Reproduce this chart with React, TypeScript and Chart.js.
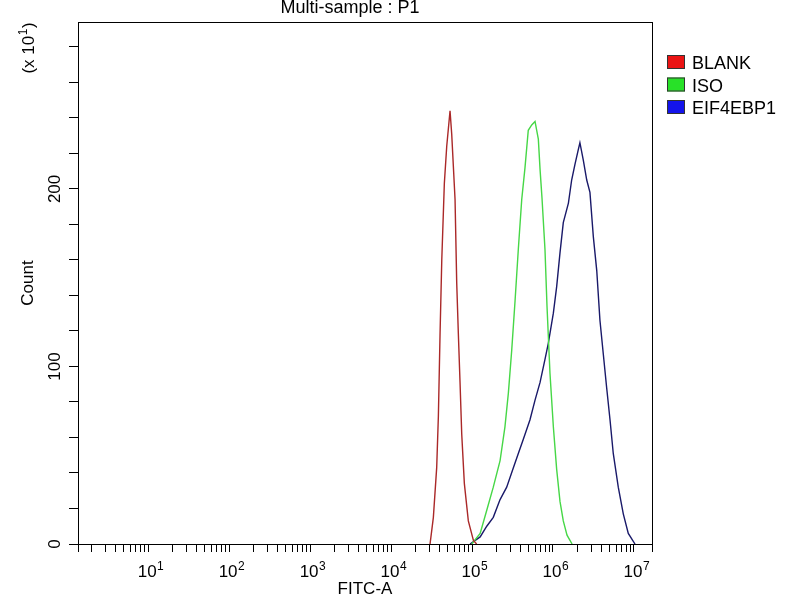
import { useEffect, useRef } from "react"
import { Chart, registerables } from "chart.js"

Chart.register(...registerables)

// FITC-A values (x) and event counts (y, in units of 10) for each histogram
const redFitc = [30300, 33300, 36600, 38400, 40300, 42300, 45500, 48700, 53500, 56100, 61700, 64700, 67700, 71100, 74600, 80400, 90000, 104000, 114000]
const redCount = [0, 15, 43, 72, 119, 160, 203, 224, 244, 231, 194, 147, 119, 91, 62, 34, 13, 2, 0]

const greenFitc = [99200, 126000, 152000, 183000, 222000, 255000, 281000, 309000, 340000, 373000, 411000, 451000, 495000, 546000, 600000, 659000, 692000, 731000, 796000, 843000, 918000, 1010000, 1110000, 1220000, 1340000, 1490000, 1720000]
const greenCount = [0, 6, 19, 32, 47, 66, 85, 109, 137, 166, 194, 212, 233, 236, 238, 228, 211, 195, 166, 134, 96, 66, 42, 24, 13, 5, 0]

const blueFitc = [94500, 126000, 152000, 183000, 222000, 268000, 324000, 373000, 430000, 520000, 600000, 692000, 796000, 875000, 1010000, 1110000, 1220000, 1340000, 1550000, 1700000, 1870000, 2050000, 2150000, 2370000, 2610000, 2860000, 3150000, 3470000, 3800000, 4180000, 4600000, 5060000, 5550000, 6400000, 7380000, 8510000, 10300000]
const blueCount = [0, 4, 10, 15, 25, 32, 43, 51, 59, 70, 81, 91, 104, 113, 130, 145, 164, 181, 192, 205, 214, 222, 226, 216, 205, 198, 173, 154, 126, 107, 88, 70, 51, 32, 17, 6, 0]

const seriesLabels = ["BLANK", "ISO", "EIF4EBP1"]
const lineColors = ["rgb(170, 40, 40)", "rgb(70, 215, 70)", "rgb(25, 25, 105)"]
const swatchColors = ["rgb(235, 20, 20)", "rgb(40, 225, 40)", "rgb(20, 20, 235)"]

// axis ticks
const xDecades = [1, 10, 100, 1000, 10000, 100000, 1000000, 10000000]
const xExponents = ["0", "1", "2", "3", "4", "5", "6", "7"]
const xMinorSteps = [2, 3, 4, 5, 6, 7, 8, 9]
const xMin = 1.36
const xMax = 16700000
const yMax = 294
const yLabelValues = [0, 100, 200]

const FONT = "'Liberation Sans', Arial, sans-serif"

const toPoints = (xs: number[], ys: number[]) => xs.map((x, i) => ({ x, y: ys[i] }))

const xTickValues: number[] = [xMin]
xDecades.forEach((d) => {
  if (d >= xMin && d <= xMax) xTickValues.push(d)
  xMinorSteps.forEach((m) => {
    if (d * m > xMin && d * m <= xMax) xTickValues.push(d * m)
  })
})
xTickValues.push(xMax)
xTickValues.sort((a, b) => a - b)

// "10" with a raised exponent, starting at x
function drawPower(ctx: CanvasRenderingContext2D, x: number, y: number, base: string, exp: string, tail = "") {
  ctx.font = `17px ${FONT}`
  ctx.fillText(base, x, y)
  const bw = ctx.measureText(base).width
  ctx.font = `12px ${FONT}`
  ctx.fillText(exp, x + bw + 0.5, y - 7)
  const ew = ctx.measureText(exp).width
  ctx.font = `17px ${FONT}`
  if (tail) ctx.fillText(tail, x + bw + ew + 1, y)
}

function powerWidth(ctx: CanvasRenderingContext2D, base: string, exp: string, tail = "") {
  ctx.font = `17px ${FONT}`
  const bw = ctx.measureText(base).width + ctx.measureText(tail).width
  ctx.font = `12px ${FONT}`
  return bw + ctx.measureText(exp).width + 1
}

const extras = {
  id: "extras",
  afterDraw(chart: any) {
    const { ctx, chartArea, scales } = chart
    ctx.save()
    // frame round the plot
    ctx.strokeStyle = "#000"
    ctx.lineWidth = 1
    ctx.strokeRect(chartArea.left + 0.5, chartArea.top + 0.5, chartArea.right - chartArea.left, chartArea.bottom - chartArea.top)

    ctx.fillStyle = "#000"
    // title
    ctx.font = `18px ${FONT}`
    ctx.textAlign = "center"
    ctx.textBaseline = "alphabetic"
    ctx.fillText("Multi-sample : P1", 350, 13)

    // x tick labels
    ctx.textAlign = "left"
    xDecades.forEach((d, i) => {
      if (d < xMin || d > xMax) return
      const px = scales.x.getPixelForValue(d)
      ctx.font = `17px ${FONT}`
      const bw = ctx.measureText("10").width
      drawPower(ctx, px - 1 - bw / 2, 577, "10", xExponents[i])
    })

    // rotated y labels
    ctx.font = `17px ${FONT}`
    ctx.textAlign = "center"
    ctx.textBaseline = "middle"
    yLabelValues.forEach((v) => {
      const y = scales.y.getPixelForValue(v)
      ctx.save()
      ctx.translate(55, y)
      ctx.rotate(-Math.PI / 2)
      ctx.fillText(String(v), 0, 0)
      ctx.restore()
    })
    ctx.save()
    ctx.translate(34, 48)
    ctx.rotate(-Math.PI / 2)
    ctx.textAlign = "left"
    ctx.textBaseline = "alphabetic"
    const w = powerWidth(ctx, "(x 10", "1", ")")
    drawPower(ctx, -w / 2, 0, "(x 10", "1", ")")
    ctx.restore()

    // legend
    ctx.font = `18px ${FONT}`
    ctx.textAlign = "left"
    ctx.textBaseline = "alphabetic"
    seriesLabels.forEach((label, i) => {
      const top = 55 + i * 22.5
      ctx.fillStyle = swatchColors[i]
      ctx.fillRect(667, top, 18, 14)
      ctx.strokeStyle = "#333"
      ctx.strokeRect(667.5, top + 0.5, 17, 13)
      ctx.fillStyle = "#000"
      ctx.fillText(label, 692, top + 14)
    })
    ctx.restore()
  },
}

export default function App() {
  const chartRef = useRef<HTMLCanvasElement>(null)
  const chartInstance = useRef<Chart | null>(null)

  useEffect(() => {
    document.body.style.margin = "0"
    if (!chartRef.current) return
    if (chartInstance.current) chartInstance.current.destroy()
    const ctx = chartRef.current.getContext("2d")
    if (!ctx) return

    const series = [
      toPoints(redFitc, redCount),
      toPoints(greenFitc, greenCount),
      toPoints(blueFitc, blueCount),
    ]

    chartInstance.current = new Chart(ctx, {
      type: "scatter",
      data: {
        datasets: series.map((data, i) => ({
          label: seriesLabels[i],
          data,
          showLine: true,
          borderColor: lineColors[i],
          backgroundColor: lineColors[i],
          borderWidth: 1.4,
          pointRadius: 0,
          tension: 0,
        })),
      },
      options: {
        animation: false,
        responsive: true,
        maintainAspectRatio: false,
        layout: { padding: { top: 22, right: 148, left: 0, bottom: 0 } },
        plugins: {
          legend: { display: false },
          title: { display: false },
          tooltip: { enabled: false },
        },
        scales: {
          x: {
            type: "logarithmic",
            min: xMin,
            max: xMax,
            afterBuildTicks: (scale: any) => {
              scale.ticks = xTickValues.map((v) => ({ value: v }))
            },
            afterFit: (scale: any) => {
              scale.height = 56
            },
            grid: { drawOnChartArea: false, drawTicks: true, tickLength: 8, color: "#000" },
            border: { display: true, color: "#000", width: 1 },
            ticks: { autoSkip: false, display: false },
            title: {
              display: true,
              text: "FITC-A",
              color: "#000",
              font: { family: FONT, size: 17 },
              padding: { top: 0, bottom: 0 },
            },
          },
          y: {
            min: 0,
            max: yMax,
            afterFit: (scale: any) => {
              scale.width = 78
            },
            grid: { drawOnChartArea: false, drawTicks: true, tickLength: 9, color: "#000" },
            border: { display: true, color: "#000", width: 1 },
            ticks: { stepSize: 20, includeBounds: false, display: false },
            title: {
              display: true,
              text: "Count",
              color: "#000",
              font: { family: FONT, size: 17 },
              padding: { top: 18, bottom: 0 },
            },
          },
        },
      } as any,
      plugins: [extras],
    })

    return () => {
      if (chartInstance.current) {
        chartInstance.current.destroy()
        chartInstance.current = null
      }
    }
  }, [])

  return (
    <div style={{ width: 800, height: 600, position: "relative", background: "#fff" }}>
      <canvas ref={chartRef} />
    </div>
  )
}
